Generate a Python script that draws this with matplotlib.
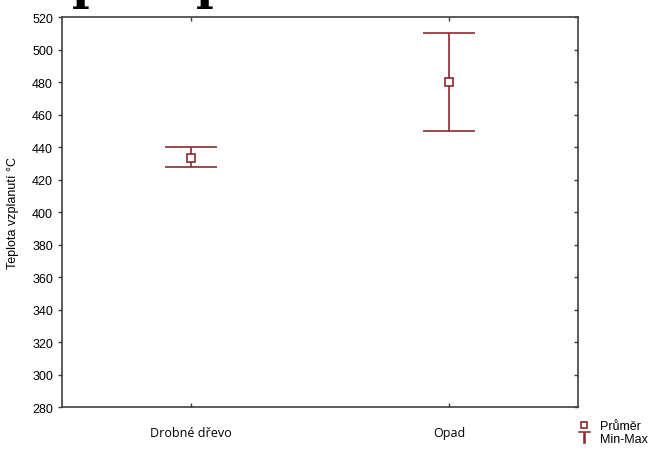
import matplotlib
matplotlib.use("Agg")
import matplotlib.pyplot as plt
from matplotlib.lines import Line2D

# data
categories = ["Drobné dřevo", "Opad"]
means = [433.5, 480]
mins = [428, 450]
maxs = [440, 510]
yticks = list(range(280, 521, 20))

red = "#8b2b2b"
edge = "#3f3f3f"

fig = plt.figure(figsize=(6.56, 4.52), dpi=100)
ax = fig.add_axes([0.0945, 0.0973, 0.7866, 0.8627])

x = list(range(len(categories)))
low = [m - lo for m, lo in zip(means, mins)]
high = [hi - m for m, hi in zip(means, maxs)]
ax.errorbar(x, means, yerr=[low, high], fmt="none", ecolor=red,
            elinewidth=1.2, capsize=18.7, capthick=1.2)
ax.plot(x, means, ls="none", marker="s", ms=5.5, mfc="white",
        mec=red, mew=1.2)

ax.set_xlim(-0.5, 1.5)
ax.set_ylim(280, 520)
ax.set_yticks(yticks)
ax.set_xticks(x)
ax.set_xticklabels(categories, fontfamily="Open Sans", fontsize=9)
for lab in ax.get_yticklabels():
    lab.set_fontfamily("Liberation Sans")
    lab.set_fontsize(9)
ax.set_ylabel("Teplota vzplanutí °C", fontfamily="Liberation Sans",
              fontsize=9, labelpad=9)

for s in ax.spines.values():
    s.set_color(edge)
    s.set_linewidth(1.2)
ax.tick_params(axis="y", direction="out", length=3, color=edge, width=1,
               left=True, right=False)
ax.tick_params(axis="x", direction="in", length=3, color=edge, width=1,
               top=True, bottom=True, pad=14)
# inner ticks on the right side
ax2 = ax.twinx()
ax2.set_ylim(ax.get_ylim())
ax2.set_yticks(yticks)
ax2.set_yticklabels([])
ax2.tick_params(axis="y", direction="in", length=3, color=edge, width=1)
for s in ax2.spines.values():
    s.set_visible(False)

handles = [
    Line2D([], [], ls="none", marker="s", ms=5, mfc="white", mec=red, mew=1.2),
    Line2D([], [], ls="none", marker=r"$\top$", ms=9, color=red, mew=0.4),
]
leg = ax.legend(handles, ["Průměr", "Min-Max"], loc="lower left",
                bbox_to_anchor=(0.99, -0.113), frameon=False,
                prop={"family": "Liberation Sans", "size": 9},
                handlelength=0.8, handletextpad=0.9, borderpad=0,
                labelspacing=0.05)

# cut-off title at the very top of the image
for xp in [0.110, 0.299]:
    fig.text(xp, 1.003, "p", fontfamily="DejaVu Serif", fontweight="bold",
             fontsize=34, va="baseline", ha="left")

fig.savefig("out.png", dpi=100)
